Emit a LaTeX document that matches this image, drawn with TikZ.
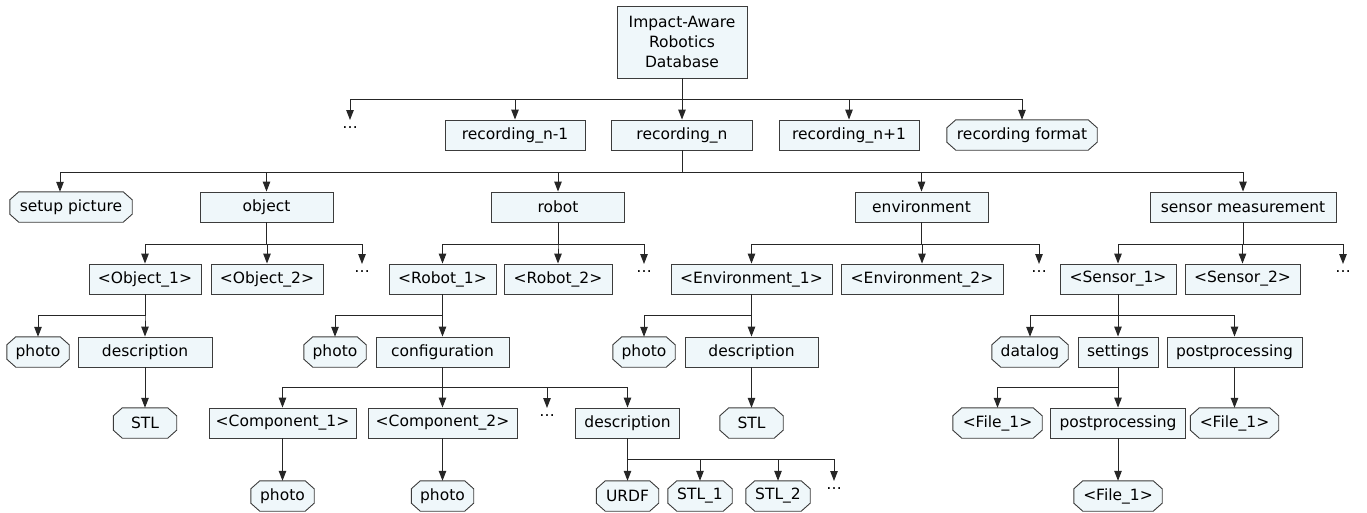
\documentclass[tikz,border=0pt]{standalone}
\usepackage{fontspec}
\setmainfont{DejaVu Sans}
\usetikzlibrary{arrows.meta,backgrounds}
\definecolor{boxfill}{HTML}{EFF7FA}
\definecolor{lncol}{HTML}{262626}
\definecolor{bdcol}{HTML}{3C3C3C}
\begin{document}
\begin{tikzpicture}[x=1pt,y=-1pt,
  every node/.style={font=\fontsize{15.5}{20}\selectfont, text=black},
  rbox/.style={draw=bdcol, line width=0.9pt, fill=boxfill, rectangle, minimum height=30pt, inner sep=0pt},
  obox/.style={rectangle, minimum height=30pt, inner sep=0pt},
  dots/.style={anchor=north, inner sep=0pt, text height=8pt, text depth=0pt},
  arr/.style={draw=lncol, line width=1pt, -{Triangle[length=10pt,width=7.5pt]}},
  octline/.style={draw=bdcol, line width=0.9pt, fill=boxfill}
]
\useasboundingbox (0,0) rectangle (1367,512);
\newcommand{\octo}[1]{\path[octline] ([xshift=9pt]#1.north west) -- ([xshift=-9pt]#1.north east) -- ([yshift=-8pt]#1.north east) -- ([yshift=8pt]#1.south east) -- ([xshift=-9pt]#1.south east) -- ([xshift=9pt]#1.south west) -- ([yshift=8pt]#1.south west) -- ([yshift=-8pt]#1.north west) -- cycle;}

% bus levels
\coordinate (b1) at (0,99);
\coordinate (b2) at (0,172);
\coordinate (b3) at (0,244);
\coordinate (b4) at (0,315);
\coordinate (b5) at (0,387);
\coordinate (b6) at (0,459);

% root
\node[rbox, minimum width=130pt, minimum height=72pt, align=center] (root) at (682,42) {Impact-Aware\\Robotics\\Database};

% row 1
\node[dots] (d0) at (350,120) {…};
\node[rbox, minimum width=140pt] (recnm) at (515,135) {recording\_n-1};
\node[rbox, minimum width=141pt] (recn) at (682,135) {recording\_n};
\node[rbox, minimum width=140pt] (recnp) at (849,135) {recording\_n+1};
\node[obox, minimum width=150pt] (recf) at (1022,135) {recording format};

% row 2
\node[obox, minimum width=122pt] (setup) at (71,207) {setup picture};
\node[rbox, minimum width=133pt] (obj) at (266.5,207) {object};
\node[rbox, minimum width=133pt] (rob) at (558,207) {robot};
\node[rbox, minimum width=133pt] (env) at (921.5,207) {environment};
\node[rbox, minimum width=186pt] (sen) at (1243,207) {sensor measurement};

% row 3
\node[rbox, minimum width=112pt] (obja) at (145,279) {<Object\_1>};
\node[rbox, minimum width=112pt] (objb) at (267,279) {<Object\_2>};
\node[dots] (d1) at (362,264) {…};
\node[rbox, minimum width=107pt] (roba) at (442.5,279) {<Robot\_1>};
\node[rbox, minimum width=108pt] (robb) at (558,279) {<Robot\_2>};
\node[dots] (d2) at (644,264) {…};
\node[rbox, minimum width=161pt] (enva) at (751.5,279) {<Environment\_1>};
\node[rbox, minimum width=162pt] (envb) at (922,279) {<Environment\_2>};
\node[dots] (d3) at (1039,264) {…};
\node[rbox, minimum width=116pt] (sena) at (1118,279) {<Sensor\_1>};
\node[rbox, minimum width=115pt] (senb) at (1242.5,279) {<Sensor\_2>};
\node[dots] (d4) at (1343,264) {…};

% row 4
\node[obox, minimum width=62pt] (ophoto) at (38,352) {photo};
\node[rbox, minimum width=134pt] (odesc) at (145,352) {description};
\node[obox, minimum width=62pt] (rphoto) at (335,352) {photo};
\node[rbox, minimum width=133pt] (conf) at (442.5,352) {configuration};
\node[obox, minimum width=62pt] (ephoto) at (644,352) {photo};
\node[rbox, minimum width=133pt] (edesc) at (751.5,352) {description};
\node[obox, minimum width=76pt] (dlog) at (1030,352) {datalog};
\node[rbox, minimum width=80pt] (sett) at (1118,352) {settings};
\node[rbox, minimum width=135pt] (pp) at (1234.5,352) {postprocessing};

% row 5
\node[obox, minimum width=63pt] (ostl) at (145,423) {STL};
\node[rbox, minimum width=147pt] (compa) at (282.5,423) {<Component\_1>};
\node[rbox, minimum width=149pt] (compb) at (442.5,423) {<Component\_2>};
\node[dots] (d5) at (547,408) {…};
\node[rbox, minimum width=104pt] (rdesc) at (627.5,423) {description};
\node[obox, minimum width=63pt] (estl) at (751.5,423) {STL};
\node[obox, minimum width=89pt] (filea) at (997.5,423) {<File\_1>};
\node[rbox, minimum width=135pt] (ppb) at (1118,423) {postprocessing};
\node[obox, minimum width=88pt] (fileb) at (1234.5,423) {<File\_1>};

% row 6
\node[obox, minimum width=63pt] (cphotoa) at (282.5,496) {photo};
\node[obox, minimum width=62pt] (cphotob) at (442.5,496) {photo};
\node[obox, minimum width=62pt] (urdf) at (627.5,496) {URDF};
\node[obox, minimum width=64pt] (stla) at (700,496) {STL\_1};
\node[obox, minimum width=64pt] (stlb) at (778,496) {STL\_2};
\node[dots] (d6) at (834,481) {…};
\node[obox, minimum width=88pt] (filec) at (1118,496) {<File\_1>};

% octagon outlines
\begin{scope}[on background layer]
\foreach \n in {recf,setup,ophoto,rphoto,ephoto,dlog,ostl,estl,filea,fileb,cphotoa,cphotob,urdf,stla,stlb,filec} {\octo{\n}}
\end{scope}

% connectors
\foreach \c in {d0,recnm,recn,recnp,recf} \draw[arr] (root.south) -- (root.south |- b1) -| (\c.north);
\draw[arr] (recn.south) -- (recn.south |- b2) -| ([xshift=-11pt]setup.north);
\foreach \c in {obj,rob,env,sen} \draw[arr] (recn.south) -- (recn.south |- b2) -| (\c.north);
\foreach \c in {obja,objb,d1} \draw[arr] (obj.south) -- (obj.south |- b3) -| (\c.north);
\foreach \c in {roba,robb,d2} \draw[arr] (rob.south) -- (rob.south |- b3) -| (\c.north);
\foreach \c in {enva,envb,d3} \draw[arr] (env.south) -- (env.south |- b3) -| (\c.north);
\foreach \c in {sena,senb,d4} \draw[arr] (sen.south) -- (sen.south |- b3) -| (\c.north);
\foreach \c in {ophoto,odesc} \draw[arr] (obja.south) -- (obja.south |- b4) -| (\c.north);
\foreach \c in {rphoto,conf} \draw[arr] (roba.south) -- (roba.south |- b4) -| (\c.north);
\foreach \c in {ephoto,edesc} \draw[arr] (enva.south) -- (enva.south |- b4) -| (\c.north);
\foreach \c in {dlog,sett,pp} \draw[arr] (sena.south) -- (sena.south |- b4) -| (\c.north);
\foreach \c in {compa,compb,d5,rdesc} \draw[arr] (conf.south) -- (conf.south |- b5) -| (\c.north);
\foreach \c in {filea,ppb} \draw[arr] (sett.south) -- (sett.south |- b5) -| (\c.north);
\draw[arr] (odesc.south) -- (ostl.north);
\draw[arr] (edesc.south) -- (estl.north);
\draw[arr] (pp.south) -- (fileb.north);
\draw[arr] (compa.south) -- (cphotoa.north);
\draw[arr] (compb.south) -- (cphotob.north);
\draw[arr] (ppb.south) -- (filec.north);
\foreach \c in {urdf,stla,stlb,d6} \draw[arr] (rdesc.south) -- (rdesc.south |- b6) -| (\c.north);
\end{tikzpicture}
\end{document}
